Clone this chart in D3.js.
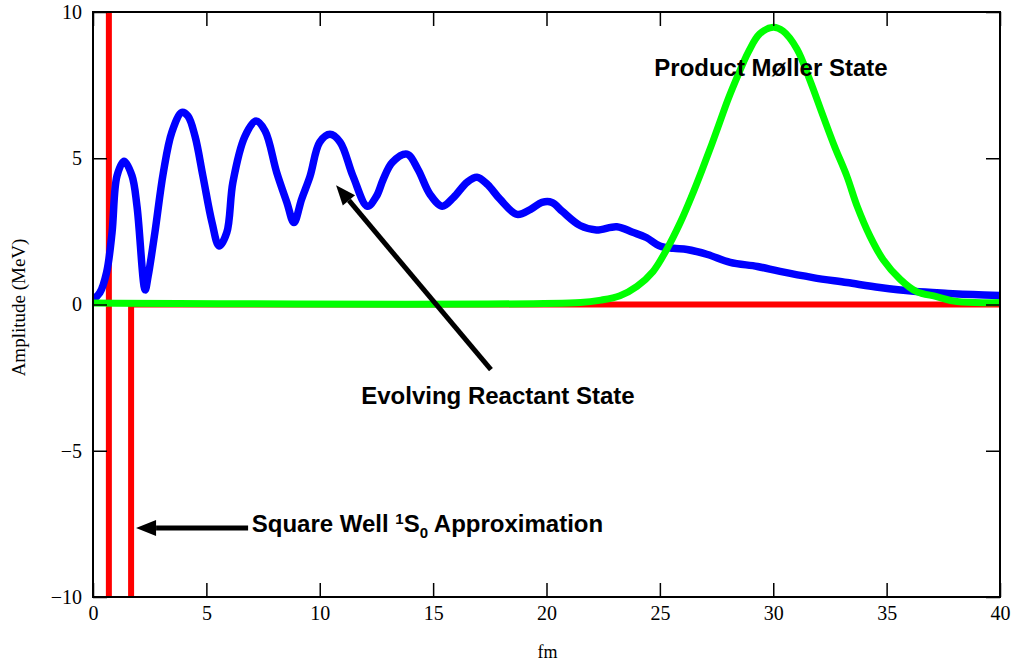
<!DOCTYPE html>
<html>
<head>
<meta charset="utf-8">
<script src="https://cdn.jsdelivr.net/npm/d3@7/dist/d3.min.js"></script>
<style>
  html, body { margin: 0; padding: 0; background: #fff; }
  svg { display: block; }
</style>
</head>
<body>
<svg id="chart" width="1018" height="664"></svg>
<script>
// Evolving reactant wavefunction amplitude (blue)
const reactantR = [0, 0.3, 0.6, 0.84, 1.06, 1.37, 1.72, 1.94, 2.3, 2.43, 2.73, 3.1, 3.48, 3.92, 4.19, 4.5, 4.85, 5.25, 5.56, 5.9, 6.17, 6.7, 7.19, 7.59, 8.1, 8.55, 8.86, 9.2, 9.57, 10.0, 10.45, 10.9, 11.47, 12.1, 12.5, 12.8, 13.2, 13.85, 14.33, 14.86, 15.4, 15.9, 16.5, 16.93, 17.4, 17.95, 18.7, 19.3, 19.8, 20.24, 20.7, 21.48, 22.2, 23.1, 23.8, 24.4, 25.0, 25.6, 26.2, 27.1, 28.1, 29.3, 30.3, 31.75, 33.25, 34.7, 36.2, 37.7, 38.8, 40];
const reactantA = [0.17, 0.4, 1.1, 2.46, 4.4, 4.9, 4.4, 3.36, 0.5, 0.96, 2.46, 4.5, 5.9, 6.57, 6.44, 5.75, 4.38, 2.8, 2.0, 2.46, 4.18, 5.75, 6.27, 5.93, 4.52, 3.49, 2.8, 3.6, 4.38, 5.55, 5.82, 5.55, 4.38, 3.36, 3.7, 4.28, 4.86, 5.14, 4.62, 3.77, 3.36, 3.66, 4.18, 4.35, 4.1, 3.6, 3.08, 3.25, 3.49, 3.49, 3.18, 2.7, 2.55, 2.66, 2.47, 2.29, 2.0, 1.92, 1.88, 1.71, 1.44, 1.3, 1.13, 0.92, 0.75, 0.58, 0.45, 0.38, 0.34, 0.31];

// Product Møller state amplitude (green)
const productR = [0, 21.5, 22.4, 23.24, 23.99, 24.7, 25.3, 25.9, 26.4, 26.86, 27.3, 27.65, 28.0, 28.45, 28.9, 29.4, 30.0, 30.43, 31.05, 31.6, 32.2, 32.7, 33.25, 33.7, 34.27, 34.84, 35.6, 36.3, 37.2, 38.1, 40];
const productA = [0.05, 0.07, 0.15, 0.3, 0.62, 1.13, 1.88, 2.8, 3.7, 4.6, 5.5, 6.25, 7.0, 7.85, 8.63, 9.25, 9.48, 9.35, 8.73, 7.7, 6.44, 5.41, 4.38, 3.36, 2.33, 1.54, 0.86, 0.45, 0.27, 0.1, 0.07];

// Square well 1S0 potential (red): hard core, well, then zero
const wellR = [0.7, 0.7, 1.68, 1.68, 40];
const wellV = [12, -12, -12, 0, 0];

// Axis ticks
const xTicks = [0, 5, 10, 15, 20, 25, 30, 35, 40];
const yTicks = [-10, -5, 0, 5, 10];

const svg = d3.select("#chart");
const plotL = 93, plotR = 1000, plotT = 12, plotB = 597;

const x = d3.scaleLinear().domain([0, 40]).range([plotL, plotR]);
const y = d3.scaleLinear().domain([-10, 10]).range([plotB, plotT]);

svg.append("defs").append("clipPath").attr("id", "plotClip")
  .append("rect").attr("x", plotL).attr("y", plotT)
  .attr("width", plotR - plotL).attr("height", plotB - plotT);

const plot = svg.append("g").attr("clip-path", "url(#plotClip)");

const line = (xs, ys, curve) => d3.line()
  .x(i => x(xs[i])).y(i => y(ys[i])).curve(curve)(d3.range(xs.length));

plot.append("path")
  .attr("d", line(wellR, wellV, d3.curveLinear))
  .attr("fill", "none").attr("stroke", "#ff0000").attr("stroke-width", 6)
  .attr("stroke-linejoin", "miter");

plot.append("path")
  .attr("d", line(reactantR, reactantA, d3.curveCatmullRom.alpha(0.5)))
  .attr("fill", "none").attr("stroke", "#0000ff").attr("stroke-width", 7.5)
  .attr("stroke-linejoin", "round").attr("stroke-linecap", "round");

plot.append("path")
  .attr("d", line(productR, productA, d3.curveCatmullRom.alpha(0.5)))
  .attr("fill", "none").attr("stroke", "#00ff00").attr("stroke-width", 7)
  .attr("stroke-linejoin", "round").attr("stroke-linecap", "round");

// Frame and inward ticks on all four sides
const fmt = d => d < 0 ? "\u2212" + Math.abs(d) : String(d);
const tickLen = 14;
const axisStyle = g => {
  g.select(".domain").remove();
  g.selectAll(".tick line").attr("stroke", "#000").attr("stroke-width", 1.5);
  g.selectAll(".tick text").attr("fill", "#000")
    .style("font-family", "'Liberation Serif', 'Times New Roman', serif")
    .style("font-size", "20px");
};

svg.append("g").attr("transform", `translate(0,${plotB})`)
  .call(d3.axisBottom(x).tickValues(xTicks).tickFormat(fmt).tickSizeInner(-tickLen).tickPadding(9))
  .call(axisStyle);
svg.append("g").attr("transform", `translate(0,${plotT})`)
  .call(d3.axisTop(x).tickValues(xTicks).tickFormat("").tickSizeInner(-tickLen))
  .call(axisStyle);
svg.append("g").attr("transform", `translate(${plotL},0)`)
  .call(d3.axisLeft(y).tickValues(yTicks).tickFormat(fmt).tickSizeInner(-tickLen).tickPadding(11))
  .call(axisStyle);
svg.append("g").attr("transform", `translate(${plotR},0)`)
  .call(d3.axisRight(y).tickValues(yTicks).tickFormat("").tickSizeInner(-tickLen))
  .call(axisStyle);

svg.append("rect").attr("x", plotL).attr("y", plotT)
  .attr("width", plotR - plotL).attr("height", plotB - plotT)
  .attr("fill", "none").attr("stroke", "#000").attr("stroke-width", 2);

// Axis titles
svg.append("text").attr("x", (plotL + plotR) / 2 + 1).attr("y", 658)
  .attr("text-anchor", "middle")
  .style("font-family", "'Liberation Serif', 'Times New Roman', serif")
  .style("font-size", "18px").text("fm");
svg.append("text")
  .attr("transform", `translate(25,${(plotT + plotB) / 2 + 3}) rotate(-90)`)
  .attr("text-anchor", "middle")
  .style("font-family", "'Liberation Serif', 'Times New Roman', serif")
  .style("font-size", "19px").text("Amplitude (MeV)");

// Annotations
const arrow = (x0, y0, x1, y1) => {
  const px0 = x(x0), py0 = y(y0), px1 = x(x1), py1 = y(y1);
  const ang = Math.atan2(py1 - py0, px1 - px0);
  const headL = 20, headW = 8;
  const bx = px1 - headL * Math.cos(ang), by = py1 - headL * Math.sin(ang);
  svg.append("line").attr("x1", px0).attr("y1", py0).attr("x2", bx).attr("y2", by)
    .attr("stroke", "#000").attr("stroke-width", 5);
  const nx = -Math.sin(ang), ny = Math.cos(ang);
  svg.append("path")
    .attr("d", `M${px1},${py1}L${bx + nx * headW},${by + ny * headW}L${bx - nx * headW},${by - ny * headW}Z`)
    .attr("fill", "#000");
};
const labelFont = "'Liberation Sans', Arial, sans-serif";

arrow(17.55, -2.23, 10.72, 4.08);
svg.append("text").attr("x", x(17.86)).attr("y", y(-3.12) + 8.5)
  .attr("text-anchor", "middle")
  .style("font-family", labelFont).style("font-weight", "bold").style("font-size", "24px")
  .text("Evolving Reactant State");

arrow(6.84, -7.64, 1.9, -7.64);
const sw = svg.append("text").attr("x", x(7.0)).attr("y", y(-7.5) + 8.5)
  .style("font-family", labelFont).style("font-weight", "bold").style("font-size", "24px");
sw.append("tspan").text("Square Well ");
sw.append("tspan").attr("dy", -8).style("font-size", "15px").text("1");
sw.append("tspan").attr("dy", 8).text("S");
sw.append("tspan").attr("dy", 6).style("font-size", "15px").text("0");
sw.append("tspan").attr("dy", -6).text(" Approximation");

svg.append("text").attr("x", x(29.9)).attr("y", y(8.1) + 8.5)
  .attr("text-anchor", "middle")
  .style("font-family", labelFont).style("font-weight", "bold").style("font-size", "24px")
  .text("Product M\u00f8ller State");
</script>
</body>
</html>
